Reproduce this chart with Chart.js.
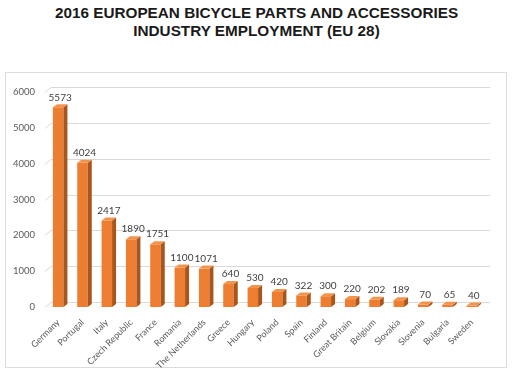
<!DOCTYPE html>
<html>
<head>
<meta charset="utf-8">
<script src="https://cdn.jsdelivr.net/npm/chart.js@4"></script>
<style>
  html, body { margin: 0; padding: 0; background: #ffffff; }
  #wrap { position: relative; width: 513px; height: 374px; overflow: hidden; }
  #title { position: absolute; left: 0; top: 4px; width: 513px; text-align: center;
           font: bold 15.3px "Liberation Sans", Arial, sans-serif; line-height: 18px; color: #1a1a1a; }
  #box { position: absolute; left: 5px; top: 72px; width: 500px; height: 294px; border: 1px solid #dcdcdc; }
  canvas { position: absolute; left: 0; top: 0; }
</style>
</head>
<body>
<div id="wrap">
  <div id="title">2016 EUROPEAN BICYCLE PARTS AND ACCESSORIES<br>INDUSTRY EMPLOYMENT (EU 28)</div>
  <div id="box"></div>
  <canvas id="c" width="513" height="374"></canvas>
</div>
<script>
const categories = ["Germany", "Portugal", "Italy", "Czech Republic", "France", "Romania",
  "The Netherlands", "Greece", "Hungary", "Poland", "Spain", "Finland", "Great Britain",
  "Belgium", "Slovakia", "Slovenia", "Bulgaria", "Sweden"];
const employment = [5573, 4024, 2417, 1890, 1751, 1100, 1071, 640, 530, 420, 322, 300, 220, 202, 189, 70, 65, 40];
const yTicks = [0, 1000, 2000, 3000, 4000, 5000, 6000];

const DEPTH_X = 4, DEPTH_Y = 3;

const wallGrid = {
  id: 'wallGrid',
  beforeDatasetsDraw(chart) {
    const ctx = chart.ctx;
    const ys = chart.scales.y;
    const area = chart.chartArea;
    ctx.save();
    ctx.strokeStyle = '#d9d9d9';
    ctx.lineWidth = 1;
    yTicks.forEach(v => {
      const py = Math.round(ys.getPixelForValue(v)) + 0.5;
      ctx.beginPath();
      ctx.moveTo(area.left - 1, py);
      ctx.lineTo(area.left + 5, py - 5);
      ctx.lineTo(area.right + 6, py - 5);
      ctx.stroke();
    });
    ctx.restore();
  }
};

const bar3d = {
  id: 'bar3d',
  afterDatasetsDraw(chart) {
    const ctx = chart.ctx;
    const meta = chart.getDatasetMeta(0);
    ctx.save();
    meta.data.forEach((bar, i) => {
      const w = bar.width;
      const left = bar.x - w / 2, right = bar.x + w / 2;
      const top = bar.y, base = bar.base;
      ctx.fillStyle = '#a9561d';
      ctx.beginPath();
      ctx.moveTo(right, base);
      ctx.lineTo(right + DEPTH_X, base - DEPTH_Y);
      ctx.lineTo(right + DEPTH_X, top - DEPTH_Y);
      ctx.lineTo(right, top);
      ctx.closePath();
      ctx.fill();
      ctx.fillStyle = '#f3944c';
      ctx.beginPath();
      ctx.moveTo(left, top);
      ctx.lineTo(left + DEPTH_X, top - DEPTH_Y);
      ctx.lineTo(right + DEPTH_X, top - DEPTH_Y);
      ctx.lineTo(right, top);
      ctx.closePath();
      ctx.fill();
      ctx.fillStyle = '#404040';
      ctx.font = '10px Lato, "Liberation Sans", sans-serif';
      ctx.textAlign = 'center';
      ctx.textBaseline = 'bottom';
      ctx.fillText(String(employment[i]), bar.x + 2, top - DEPTH_Y - 2);
    });
    ctx.restore();
  }
};

new Chart(document.getElementById('c'), {
  type: 'bar',
  data: {
    labels: categories,
    datasets: [{
      data: employment,
      backgroundColor: '#ed7d31',
      borderWidth: 0,
      barPercentage: 0.6,
      categoryPercentage: 0.72
    }]
  },
  options: {
    responsive: false,
    animation: false,
    devicePixelRatio: 1,
    layout: { padding: { top: 92, right: 29, left: 0, bottom: 0 } },
    plugins: { legend: { display: false }, title: { display: false }, tooltip: { enabled: false } },
    scales: {
      x: {
        grid: { display: false },
        border: { display: false },
        ticks: {
          color: '#595959',
          font: { family: 'Lato, "Liberation Sans", sans-serif', size: 9 },
          minRotation: 45, maxRotation: 45, autoSkip: false, padding: 2
        },
        afterFit(s) { s.height = 67; }
      },
      y: {
        min: 0, max: 6000,
        afterBuildTicks(s) { s.ticks = yTicks.map(v => ({ value: v })); },
        grid: { display: false },
        border: { display: false },
        ticks: {
          color: '#595959',
          font: { family: 'Lato, "Liberation Sans", sans-serif', size: 9.5 },
          padding: 3,
          callback: v => String(v)
        },
        afterFit(s) { s.width = 46; }
      }
    }
  },
  plugins: [wallGrid, bar3d]
});
</script>
</body>
</html>
